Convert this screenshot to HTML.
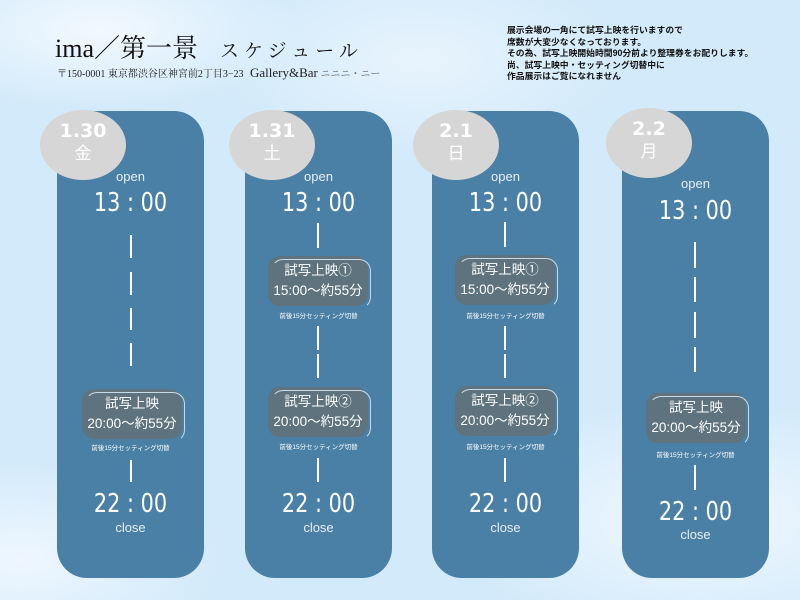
<!DOCTYPE html>
<html><head><meta charset="utf-8"><style>
*{margin:0;padding:0;box-sizing:border-box}
body{width:800px;height:600px;overflow:hidden;position:relative;font-family:"Liberation Sans","Noto Sans CJK JP",sans-serif;
background:radial-gradient(ellipse 200px 80px at 100px 30px,#f2f9ff,transparent),radial-gradient(ellipse 260px 120px at 700px 520px,#f0f8ff,transparent),radial-gradient(ellipse 200px 100px at 20px 560px,#eef7ff,transparent),radial-gradient(ellipse 200px 100px at 420px 60px,#e8f4fd,transparent),#d3eafa}
.a{position:absolute}
.col{position:absolute;top:111px;width:147px;height:467px;background:#4a80a5;border-radius:30px}
.circ{position:absolute;width:86px;height:70px;border-radius:50%;background:#d6d6d6;color:#fff;text-align:center;font-weight:bold}
.circ b{display:block;font-family:"DejaVu Sans",sans-serif;font-size:19px;margin-top:10px;line-height:22px}
.circ span{display:block;font-size:17px;font-weight:normal;line-height:24px}
.t{position:absolute;width:147px;text-align:center;color:#fff}
.open{font-size:13px;color:#e6eef4}
.big{font-size:26px;font-weight:normal;transform:scaleX(.8);font-family:"DejaVu Sans",sans-serif;line-height:30px}
.d{position:absolute;width:2px;background:#fff}
.box{position:absolute;width:100px;height:50px;background:#5e737d;border-radius:12px;color:#fff;text-align:center;font-size:13.5px;line-height:20px;padding-top:5px}
.box:after{content:"";position:absolute;left:3px;top:3px;right:-3px;bottom:-3px;border:1px solid #c8dce8;border-left-color:transparent;border-bottom-color:transparent;border-radius:12px}
.sub{position:absolute;width:147px;text-align:center;color:#fff;font-size:6.5px}
</style></head><body>
<div class="a" style="left:55px;top:28px;font-family:'Liberation Serif','Noto Serif CJK SC',serif;font-size:26px;color:#111">ima／第一景<span style="font-size:19px;margin-left:22px;letter-spacing:5px">スケジュール</span></div>
<div class="a" style="left:57px;top:65px;font-family:'Liberation Serif','Noto Serif CJK SC',serif;font-size:10px;color:#222">〒150-0001 東京都渋谷区神宮前2丁目3−23 <span style="font-size:13px;margin-left:4px">Gallery&amp;Bar</span> <span style="color:#666">ニニニ・ニー</span></div>
<div class="a" style="left:507px;top:25px;font-size:8.8px;line-height:11.5px;color:#111;font-weight:bold">展示会場の一角にて試写上映を行いますので<br>席数が大変少なくなっております。<br>その為、試写上映開始時間90分前より整理券をお配りします。<br>尚、試写上映中・セッティング切替中に<br>作品展示はご覧になれません</div>

<div class="col" style="left:57px"></div>
<div class="circ" style="left:40px;top:110px"><b>1.30</b><span>金</span></div>
<div class="t open" style="left:57px;top:169px">open</div>
<div class="t big" style="left:57px;top:188px">13 : 00</div>
<div class="d" style="left:130px;top:235px;height:23px"></div>
<div class="d" style="left:130px;top:272px;height:23px"></div>
<div class="d" style="left:130px;top:308px;height:22px"></div>
<div class="d" style="left:130px;top:343px;height:23px"></div>
<div class="box" style="left:82px;top:389px">試写上映<br>20:00〜約55分</div>
<div class="sub" style="left:57px;top:442px">前後15分セッティング切替</div>
<div class="d" style="left:130px;top:460px;height:22px"></div>
<div class="t big" style="left:57px;top:489px">22 : 00</div>
<div class="t open" style="left:57px;top:520px">close</div>

<div class="col" style="left:245px"></div>
<div class="circ" style="left:229px;top:110px"><b>1.31</b><span>土</span></div>
<div class="t open" style="left:245px;top:169px">open</div>
<div class="t big" style="left:245px;top:188px">13 : 00</div>
<div class="d" style="left:317px;top:223px;height:25px"></div>
<div class="box" style="left:268px;top:256px">試写上映①<br>15:00〜約55分</div>
<div class="sub" style="left:245px;top:310px">前後15分セッティング切替</div>
<div class="d" style="left:317px;top:326px;height:24px"></div>
<div class="d" style="left:317px;top:354px;height:24px"></div>
<div class="box" style="left:268px;top:387px">試写上映②<br>20:00〜約55分</div>
<div class="sub" style="left:245px;top:441px">前後15分セッティング切替</div>
<div class="d" style="left:317px;top:458px;height:24px"></div>
<div class="t big" style="left:245px;top:489px">22 : 00</div>
<div class="t open" style="left:245px;top:520px">close</div>

<div class="col" style="left:432px"></div>
<div class="circ" style="left:413px;top:110px"><b>2.1</b><span>日</span></div>
<div class="t open" style="left:432px;top:169px">open</div>
<div class="t big" style="left:432px;top:188px">13 : 00</div>
<div class="d" style="left:504px;top:222px;height:25px"></div>
<div class="box" style="left:455px;top:255px">試写上映①<br>15:00〜約55分</div>
<div class="sub" style="left:432px;top:310px">前後15分セッティング切替</div>
<div class="d" style="left:504px;top:326px;height:24px"></div>
<div class="d" style="left:504px;top:354px;height:24px"></div>
<div class="box" style="left:455px;top:386px">試写上映②<br>20:00〜約55分</div>
<div class="sub" style="left:432px;top:441px">前後15分セッティング切替</div>
<div class="d" style="left:504px;top:458px;height:24px"></div>
<div class="t big" style="left:432px;top:489px">22 : 00</div>
<div class="t open" style="left:432px;top:520px">close</div>

<div class="col" style="left:622px"></div>
<div class="circ" style="left:606px;top:108px"><b>2.2</b><span>月</span></div>
<div class="t open" style="left:622px;top:176px">open</div>
<div class="t big" style="left:622px;top:196px">13 : 00</div>
<div class="d" style="left:694px;top:242px;height:26px"></div>
<div class="d" style="left:694px;top:277px;height:25px"></div>
<div class="d" style="left:694px;top:312px;height:26px"></div>
<div class="d" style="left:694px;top:347px;height:25px"></div>
<div class="box" style="left:646px;top:393px">試写上映<br>20:00〜約55分</div>
<div class="sub" style="left:622px;top:449px">前後15分セッティング切替</div>
<div class="d" style="left:694px;top:465px;height:25px"></div>
<div class="t big" style="left:622px;top:497px">22 : 00</div>
<div class="t open" style="left:622px;top:527px">close</div>
</body></html>
